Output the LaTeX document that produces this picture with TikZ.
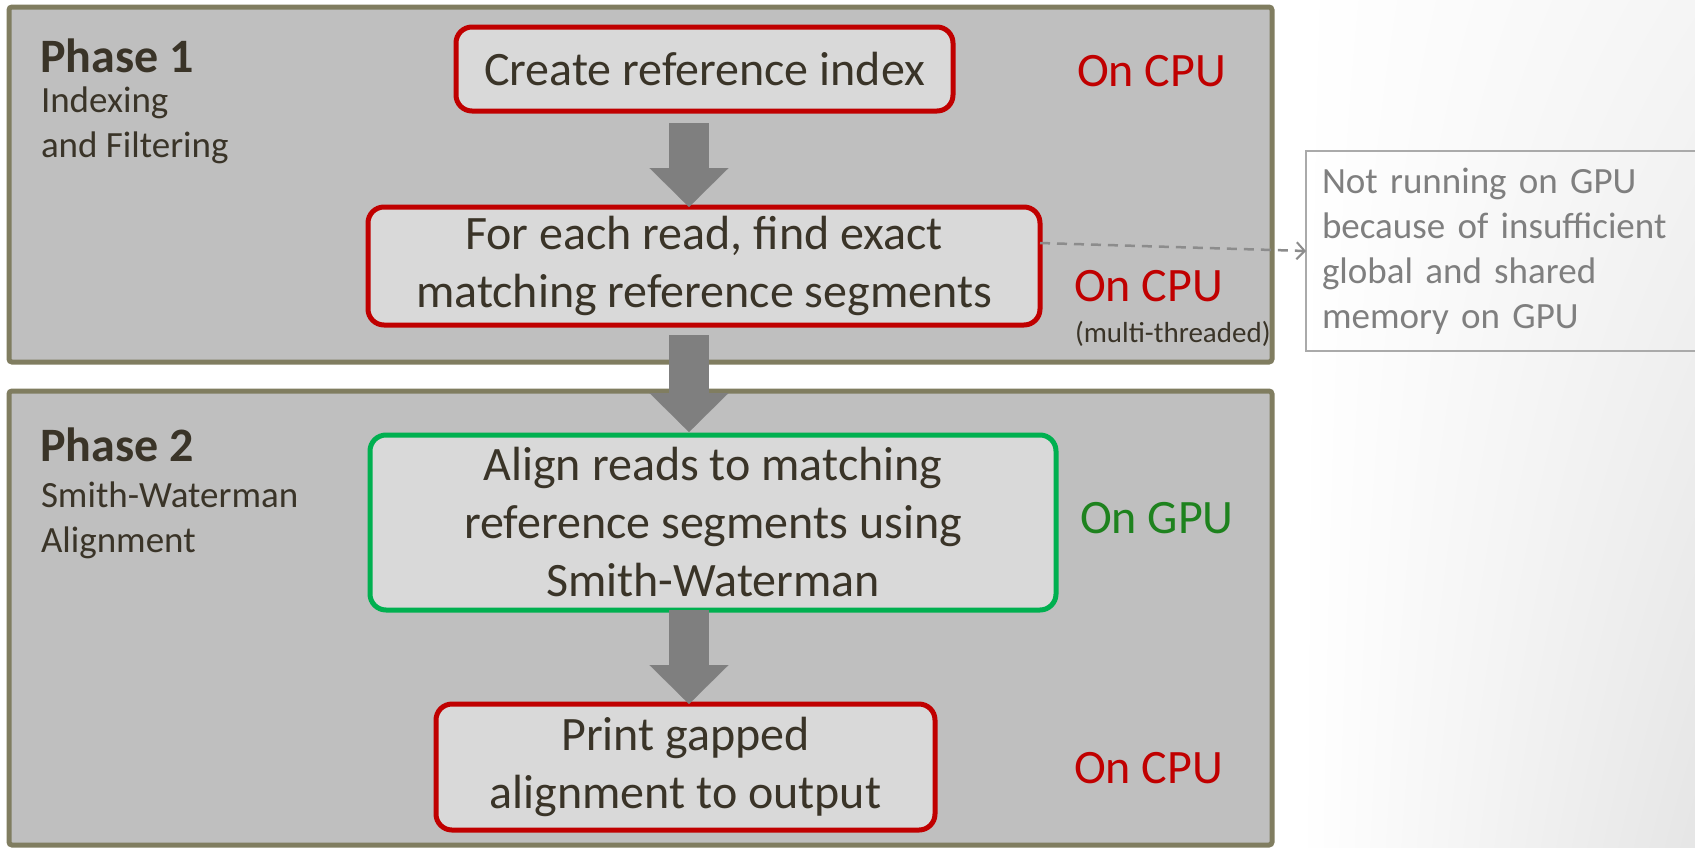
\documentclass[tikz,border=0pt]{standalone}
\usepackage{fontspec}
\setmainfont{Carlito}
\usetikzlibrary{positioning,arrows.meta,calc,shadings}
\definecolor{panelgray}{RGB}{191,191,191}
\definecolor{panelrim}{RGB}{128,125,96}
\definecolor{boxgray}{RGB}{217,217,217}
\definecolor{cpured}{RGB}{192,0,0}
\definecolor{gpugreen}{RGB}{0,176,80}
\definecolor{gputext}{RGB}{30,130,30}
\definecolor{inkdark}{RGB}{58,52,40}
\definecolor{arrowgray}{RGB}{127,127,127}
\definecolor{dashgray}{RGB}{140,140,140}
\definecolor{notegray}{RGB}{127,127,127}
\definecolor{noterim}{RGB}{170,170,170}
\newcommand{\stepfont}{\fontsize{48}{58}\selectfont}
\newcommand{\sidefont}{\fontsize{37}{45}\selectfont}
\newcommand{\threadfont}{\fontsize{29}{34}\selectfont}

\begin{document}
\begin{tikzpicture}[
    x=1pt, y=-1pt,
    every node/.style={align=center, text=inkdark, outer sep=0pt},
    panel/.style={rectangle, rounded corners=3pt, draw=panelrim, fill=panelgray, line width=5pt, anchor=north west, minimum width=1263pt},
    stepbox/.style={rectangle, rounded corners=16pt, fill=boxgray, line width=5pt, font=\stepfont, inner sep=0pt},
    cpubox/.style={stepbox, draw=cpured},
    gpubox/.style={stepbox, draw=gpugreen},
    sitelabel/.style={anchor=base west, inner sep=0pt, font=\stepfont},
    oncpu/.style={sitelabel, text=cpured},
    ongpu/.style={sitelabel, text=gputext},
    phasetitle/.style={anchor=base west, inner sep=0pt, font=\stepfont\bfseries},
    phasesub/.style={anchor=base west, inner sep=0pt, align=left, font=\sidefont},
    blockarrow/.style={draw=arrowgray, line width=40pt, -{Triangle[length=39pt 0 0, width=79pt 0 0, line width=0.1pt]}},
    dasharrow/.style={draw=dashgray, line width=2.5pt, dash pattern=on 10pt off 7pt, -{Straight Barb[length=8pt, width=17pt, line width=2pt]}},
    notebox/.style={rectangle, draw=noterim, line width=2pt, anchor=north west, minimum width=400pt, minimum height=200pt, text width=368pt, align=left, font=\sidefont, text=notegray}
]
\useasboundingbox (0,0) rectangle (1695,847);
\fill[white] (0,0) rectangle (1695,847);
\shade[upper left=white, upper right=black!4, lower left=white, lower right=black!10] (1300,0) rectangle (1695,847);

% Two phase panels
\node[panel, minimum height=355pt] (phase1) at (9,7) {};
\node[panel, minimum height=454pt] (phase2) at (9,391) {};

% base of a two-line label is its last line
\node[phasetitle] (p1title) at (40,72) {Phase 1};
\node[phasesub] (p1sub) at (41,157) {Indexing\\and Filtering};
\node[phasetitle] (p2title) at (40,461) {Phase 2};
\node[phasesub] (p2sub) at (41,552) {Smith-Waterman\\Alignment};

% Steps
\node[cpubox, minimum width=497pt, minimum height=84pt] (create) at (704.5,69) {Create reference index};
\node[cpubox, minimum width=672pt, minimum height=118pt] (foreach) at (704,266) {For each read, find exact\\matching reference segments};
\node[gpubox, minimum width=686pt, minimum height=175pt] (align) at (713,522.5) {Align reads to matching\\reference segments using\\Smith-Waterman};
\node[cpubox, minimum width=499pt, minimum height=126pt] (print) at (685.5,767) {Print gapped\\alignment to output};

% Where each step runs
\node[oncpu] (cpu1) at (1077,86) {On CPU};
\node[oncpu] (cpu2) at (1074,301) {On CPU};
\node[sitelabel, font=\threadfont] (threads) at (1075,342) {(multi-threaded)};
\node[ongpu] (gpu) at (1080,533) {On GPU};
\node[oncpu] (cpu3) at (1074,783) {On CPU};

% Side note
\node[notebox] (note) at (1306,151) {Not running on GPU\\because of insufficient\\global and shared\\memory on GPU};

% Flow arrows
\coordinate (ax) at (689,0);
\draw[blockarrow, shorten <=12pt] (create.south -| ax) -- (foreach.north -| ax);
\draw[blockarrow, shorten <=10pt, shorten >=3pt] (foreach.south -| ax) -- (align.north -| ax);
\draw[blockarrow] (align.south -| ax) -- (print.north -| ax);
\draw[dasharrow] ([yshift=23pt]foreach.east) -- (note.west);

\end{tikzpicture}
\end{document}
